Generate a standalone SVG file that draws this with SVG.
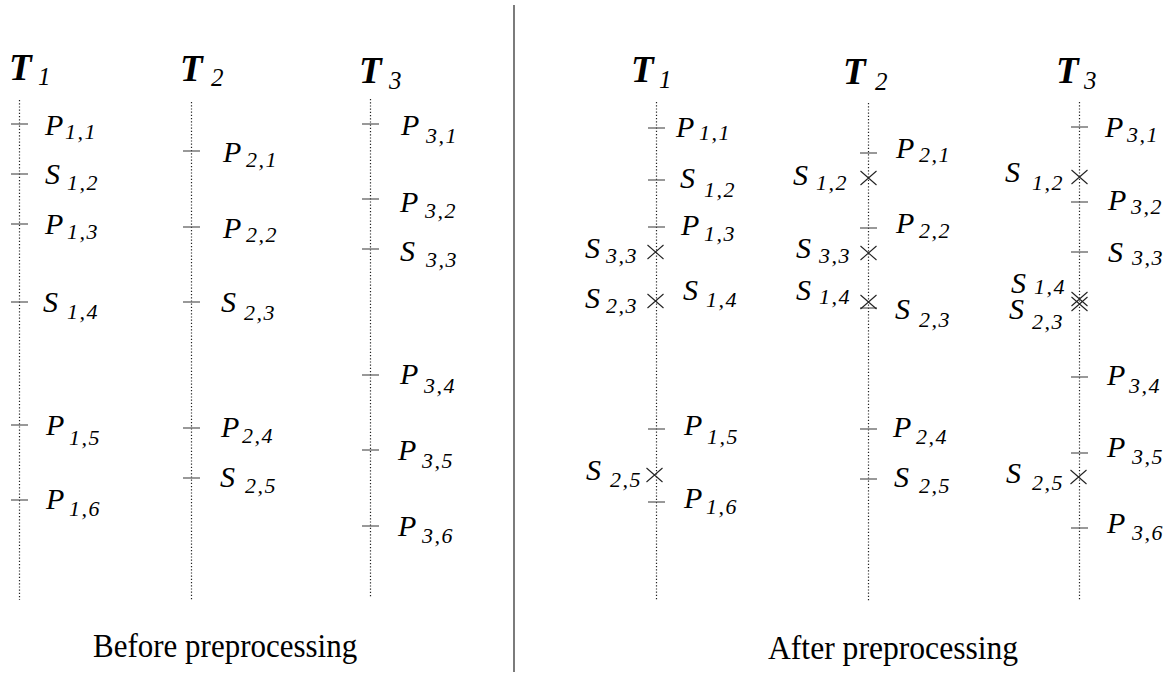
<svg xmlns="http://www.w3.org/2000/svg" width="1169" height="674" viewBox="0 0 1169 674">
<style>
.bg{fill:#fff}
.tl{stroke:#222;stroke-width:1.2;stroke-dasharray:1.2 2;fill:none}
.tk{stroke:#555;stroke-width:1.2;fill:none}
.x{stroke:#222;stroke-width:1.1;fill:none}
.div{stroke:#444;stroke-width:1.4}
text{font-family:"Liberation Serif","Times New Roman",serif;fill:#000}
.L{font-size:30px;font-style:italic}
.s{font-size:22px;font-style:italic;letter-spacing:1.5px}
.T{font-size:37px;font-style:italic;font-weight:bold}
.ts{font-size:25px;font-style:italic;font-weight:normal}
.cap{font-size:31px}
</style>
<defs>
<path id="tick" class="tk" d="M-8.5,0H8.5"/>
<path id="cross" class="x" d="M-8,-7L8,7M-8,7L8,-7"/>
</defs>
<rect class="bg" x="0" y="0" width="1169" height="674"/>
<line class="div" x1="514" y1="5" x2="514" y2="672"/>

<g id="before">
<g id="b-T1">
<line class="tl" x1="19.5" y1="100" x2="19.5" y2="600"/>
<text class="T" x="9" y="80">T<tspan class="ts" x="38" y="85">1</tspan></text>
<use href="#tick" x="19.5" y="124"/><use href="#tick" x="19.5" y="174"/><use href="#tick" x="19.5" y="224"/>
<use href="#tick" x="19.5" y="302"/><use href="#tick" x="19.5" y="425"/><use href="#tick" x="19.5" y="500"/>
<text class="L" x="45" y="135">P<tspan class="s" x="65" y="139">1,1</tspan></text>
<text class="L" x="45" y="184">S<tspan class="s" x="67" y="190">1,2</tspan></text>
<text class="L" x="45" y="234">P<tspan class="s" x="67" y="239">1,3</tspan></text>
<text class="L" x="43" y="312">S<tspan class="s" x="67" y="319">1,4</tspan></text>
<text class="L" x="46" y="435">P<tspan class="s" x="69" y="445">1,5</tspan></text>
<text class="L" x="46" y="509">P<tspan class="s" x="69" y="516">1,6</tspan></text>
</g>
<g id="b-T2">
<line class="tl" x1="191.5" y1="102" x2="191.5" y2="601"/>
<text class="T" x="180" y="81">T<tspan class="ts" x="211" y="86">2</tspan></text>
<use href="#tick" x="191.5" y="151"/><use href="#tick" x="191.5" y="227"/><use href="#tick" x="191.5" y="302"/>
<use href="#tick" x="191.5" y="428"/><use href="#tick" x="191.5" y="478"/>
<text class="L" x="223" y="162">P<tspan class="s" x="246" y="167">2,1</tspan></text>
<text class="L" x="223" y="238">P<tspan class="s" x="246" y="242">2,2</tspan></text>
<text class="L" x="221" y="312">S<tspan class="s" x="244" y="320">2,3</tspan></text>
<text class="L" x="221" y="437">P<tspan class="s" x="242" y="443">2,4</tspan></text>
<text class="L" x="220" y="487">S<tspan class="s" x="245" y="493">2,5</tspan></text>
</g>
<g id="b-T3">
<line class="tl" x1="370.5" y1="99" x2="370.5" y2="598"/>
<text class="T" x="359" y="83">T<tspan class="ts" x="389" y="89">3</tspan></text>
<use href="#tick" x="370.5" y="124"/><use href="#tick" x="370.5" y="199"/><use href="#tick" x="370.5" y="249"/>
<use href="#tick" x="370.5" y="375"/><use href="#tick" x="370.5" y="450"/><use href="#tick" x="370.5" y="526"/>
<text class="L" x="401" y="135">P<tspan class="s" x="426" y="143">3,1</tspan></text>
<text class="L" x="400" y="212">P<tspan class="s" x="425" y="218">3,2</tspan></text>
<text class="L" x="400" y="261">S<tspan class="s" x="426" y="267">3,3</tspan></text>
<text class="L" x="400" y="384">P<tspan class="s" x="424" y="393">3,4</tspan></text>
<text class="L" x="398" y="460">P<tspan class="s" x="422" y="468">3,5</tspan></text>
<text class="L" x="398" y="536">P<tspan class="s" x="422" y="543">3,6</tspan></text>
</g>
</g>

<g id="after">
<g id="a-T1">
<line class="tl" x1="656.5" y1="102" x2="656.5" y2="601"/>
<text class="T" x="631" y="82">T<tspan class="ts" x="659" y="88">1</tspan></text>
<use href="#tick" x="656.5" y="128"/><use href="#tick" x="656.5" y="180"/><use href="#tick" x="656.5" y="227"/>
<use href="#tick" x="656.5" y="429"/><use href="#tick" x="656.5" y="502"/>
<use href="#cross" x="655.5" y="252"/><use href="#cross" x="655.5" y="301"/><use href="#cross" x="654.5" y="475"/>
<text class="L" x="676" y="137">P<tspan class="s" x="699" y="140">1,1</tspan></text>
<text class="L" x="680" y="188">S<tspan class="s" x="704" y="197">1,2</tspan></text>
<text class="L" x="681" y="235">P<tspan class="s" x="704" y="241">1,3</tspan></text>
<text class="L" x="585" y="258">S<tspan class="s" x="606" y="263">3,3</tspan></text>
<text class="L" x="683" y="300">S<tspan class="s" x="706" y="307">1,4</tspan></text>
<text class="L" x="585" y="308">S<tspan class="s" x="606" y="313">2,3</tspan></text>
<text class="L" x="684" y="435">P<tspan class="s" x="707" y="444">1,5</tspan></text>
<text class="L" x="586" y="480">S<tspan class="s" x="610" y="487">2,5</tspan></text>
<text class="L" x="684" y="508">P<tspan class="s" x="706" y="514">1,6</tspan></text>
</g>
<g id="a-T2">
<line class="tl" x1="868.5" y1="103" x2="868.5" y2="602"/>
<text class="T" x="843" y="84">T<tspan class="ts" x="875" y="90">2</tspan></text>
<use href="#tick" x="868.5" y="153"/><use href="#tick" x="868.5" y="228"/><use href="#tick" x="868.5" y="308"/>
<use href="#tick" x="868.5" y="429"/><use href="#tick" x="868.5" y="479"/>
<use href="#cross" x="868.5" y="178"/><use href="#cross" x="868.5" y="253"/><use href="#cross" x="868.5" y="302"/>
<text class="L" x="896" y="158">P<tspan class="s" x="919" y="162">2,1</tspan></text>
<text class="L" x="793" y="185">S<tspan class="s" x="816" y="190">1,2</tspan></text>
<text class="L" x="896" y="233">P<tspan class="s" x="919" y="238">2,2</tspan></text>
<text class="L" x="796" y="258">S<tspan class="s" x="819" y="263">3,3</tspan></text>
<text class="L" x="796" y="300">S<tspan class="s" x="819" y="304">1,4</tspan></text>
<text class="L" x="895" y="319">S<tspan class="s" x="919" y="327">2,3</tspan></text>
<text class="L" x="893" y="437">P<tspan class="s" x="916" y="444">2,4</tspan></text>
<text class="L" x="894" y="487">S<tspan class="s" x="919" y="493">2,5</tspan></text>
</g>
<g id="a-T3">
<line class="tl" x1="1079.5" y1="102" x2="1079.5" y2="601"/>
<text class="T" x="1056" y="83">T<tspan class="ts" x="1084" y="89">3</tspan></text>
<use href="#tick" x="1079.5" y="127"/><use href="#tick" x="1079.5" y="202"/><use href="#tick" x="1079.5" y="252"/>
<use href="#tick" x="1079.5" y="377"/><use href="#tick" x="1079.5" y="453"/><use href="#tick" x="1079.5" y="528"/>
<use href="#cross" x="1079.5" y="177"/><use href="#cross" x="1079.5" y="299"/><use href="#cross" x="1079.5" y="304"/><use href="#cross" x="1078.5" y="477"/>
<text class="L" x="1105" y="137">P<tspan class="s" x="1127" y="142">3,1</tspan></text>
<text class="L" x="1005" y="182">S<tspan class="s" x="1032" y="190">1,2</tspan></text>
<text class="L" x="1108" y="210">P<tspan class="s" x="1131" y="214">3,2</tspan></text>
<text class="L" x="1108" y="262">S<tspan class="s" x="1132" y="265">3,3</tspan></text>
<text class="L" x="1011" y="293">S<tspan class="s" x="1034" y="294">1,4</tspan></text>
<text class="L" x="1009" y="319">S<tspan class="s" x="1032" y="329">2,3</tspan></text>
<text class="L" x="1107" y="385">P<tspan class="s" x="1129" y="393">3,4</tspan></text>
<text class="L" x="1107" y="457">P<tspan class="s" x="1132" y="464">3,5</tspan></text>
<text class="L" x="1006" y="483">S<tspan class="s" x="1032" y="490">2,5</tspan></text>
<text class="L" x="1107" y="533">P<tspan class="s" x="1132" y="540">3,6</tspan></text>
</g>
</g>

<g id="captions">
<text class="cap" transform="translate(93,657) scale(1,1.1)">Before preprocessing</text>
<text class="cap" transform="translate(768,659) scale(1.02,1.1)">After preprocessing</text>
</g>
</svg>
